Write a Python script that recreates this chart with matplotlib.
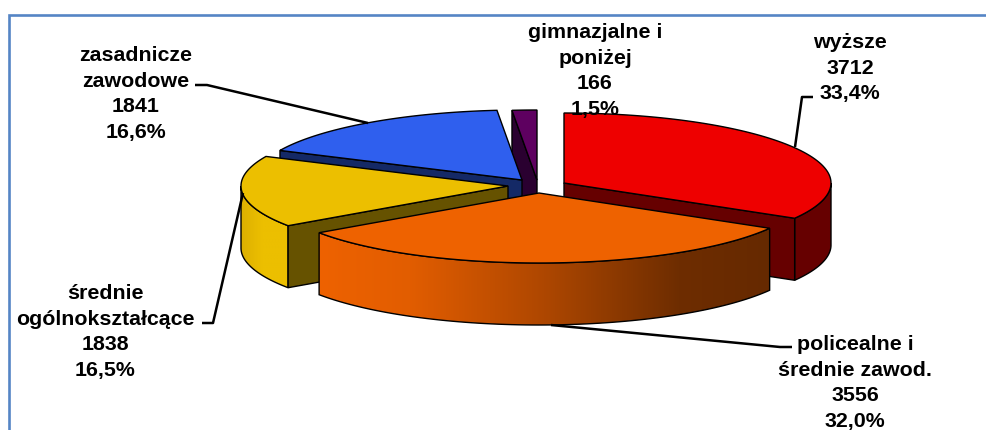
import numpy as np
import matplotlib
matplotlib.use('Agg')
import matplotlib.pyplot as plt
from matplotlib.colors import LinearSegmentedColormap
from matplotlib.patches import Polygon

# Values
categories = ['wyższe', 'policealne i\nśrednie zawod.', 'średnie\nogólnokształcące',
              'zasadnicze\nzawodowe', 'gimnazjalne i\nponiżej']
values = [3712, 3556, 1838, 1841, 166]
percents = ['33,4%', '32,0%', '16,5%', '16,6%', '1,5%']

# Look of each slice (the pie is exploded, so every slice has its own centre)
centres = [(564, 183), (539, 193), (508, 186), (522, 180), (537, 180)]
top_colors = ['#EE0000', '#EE6200', '#ECBF00', '#2F5FEE', '#5E0060']
side_colors = ['#660000', '#662900', '#665200', '#142966', '#2A0030']
label_pos = [(850, 68), (855, 383), (105.5, 332), (136, 94), (595, 71)]
leaders = [
    [(795, 147), (802, 97), (813, 97)],
    [(551, 325), (780, 347), (792, 347)],
    [(243, 193), (213, 323), (202, 323)],
    [(368, 123), (207, 85), (195, 85)],
]

rx, ry, depth = 267, 70, 62


def rim(i, a, b, n=80):
    # points on the top rim of slice i, angles clockwise from 12 o'clock
    t = np.radians(np.linspace(a, b, n))
    cx, cy = centres[i]
    return np.column_stack([cx + rx * np.sin(t), cy - ry * np.cos(t)])


def draw_top(i, a, b, z):
    pts = np.vstack([[centres[i]], rim(i, a, b)])
    ax.add_patch(Polygon(pts, closed=True, fc=top_colors[i], ec='black', lw=1, zorder=z))


def draw_cut(i, angle, z):
    # flat cut face between the centre and the rim
    p = rim(i, angle, angle, 1)[0]
    c = np.array(centres[i])
    pts = [c, p, p + [0, depth], c + [0, depth]]
    ax.add_patch(Polygon(pts, closed=True, fc=side_colors[i], ec='black', lw=1, zorder=z))


def draw_wall(i, a, b, z, stops=None):
    # curved outer wall, solid or with a left to right gradient
    top = rim(i, a, b)
    pts = np.vstack([top, top[::-1] + [0, depth]])
    if stops is None:
        ax.add_patch(Polygon(pts, closed=True, fc=side_colors[i], ec='black', lw=1, zorder=z))
        return
    cmap = LinearSegmentedColormap.from_list('wall', stops)
    x0, x1 = pts[:, 0].min(), pts[:, 0].max()
    y0, y1 = pts[:, 1].min(), pts[:, 1].max()
    grad = np.linspace(0, 1, 256).reshape(1, -1)
    im = ax.imshow(grad, cmap=cmap, extent=(x0, x1, y1, y0), aspect='auto', zorder=z)
    edge = Polygon(pts, closed=True, fc='none', ec='black', lw=1, zorder=z + 0.1)
    ax.add_patch(edge)
    im.set_clip_path(edge)


fig = plt.figure(figsize=(9.87, 4.30), dpi=100)
ax = fig.add_axes([0, 0, 1, 1])

# Slice angles from the values
edges = np.concatenate([[0], np.cumsum(values)]) / sum(values) * 360

orange_stops = [(0, '#EE6200'), (0.2, '#E25D00'), (0.5, '#AE4700'), (0.8, '#6E2D00'), (1, '#662900')]
yellow_stops = [(0, '#DDB000'), (0.45, '#ECBF00'), (1, '#ECBF00')]

# gimnazjalne
draw_cut(4, edges[4], 1)
draw_top(4, edges[4], edges[5], 1.5)
# zasadnicze
draw_cut(3, edges[3], 2)
draw_top(3, edges[3], edges[4], 2.5)
# srednie ogolnoksztalcace
draw_wall(2, edges[2], 270, 3, yellow_stops)
draw_cut(2, edges[2], 3.2)
draw_top(2, edges[2], edges[3], 3.5)
# wyzsze
draw_wall(0, 90, edges[1], 4)
draw_cut(0, edges[1], 4.2)
draw_top(0, edges[0], edges[1], 4.5)
# policealne
draw_wall(1, edges[1], edges[2], 5, orange_stops)
draw_top(1, edges[1], edges[2], 5.5)

# Leader lines
for line in leaders:
    xs, ys = zip(*line)
    ax.plot(xs, ys, color='black', lw=1.8, solid_capstyle='butt', zorder=7)

# Labels
for cat, val, pct, pos in zip(categories, values, percents, label_pos):
    ax.text(pos[0], pos[1], f'{cat}\n{val}\n{pct}', ha='center', va='center', multialignment='center',
            family='Liberation Sans', weight='bold', fontsize=15.4, linespacing=1.425, color='black', zorder=8)

# Chart frame: only the left and top edges fall inside the picture
ax.plot([9, 9, 987], [430, 14.5, 14.5], color='#5585C5', lw=1.9, solid_joinstyle='miter', zorder=9)

ax.set_xlim(0, 987)
ax.set_ylim(430, 0)
ax.axis('off')

fig.savefig('out.png', dpi=100)
